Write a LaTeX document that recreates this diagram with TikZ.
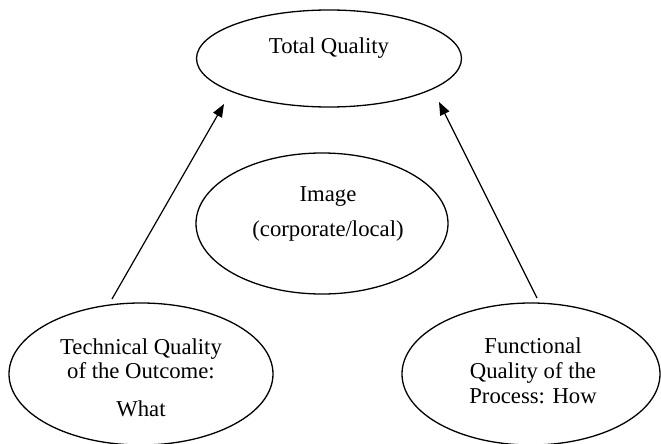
\documentclass[tikz,border=0pt]{standalone}
\usepackage{fontspec}
\setmainfont{Liberation Serif}
\usetikzlibrary{shapes.geometric,arrows.meta}
\begin{document}
\begin{tikzpicture}[x=1pt,y=-1pt,
  oval/.style={draw, ellipse, line width=1.3pt, inner sep=0pt},
  txt/.style={anchor=base, inner sep=0pt, font=\fontsize{22.7}{25}\selectfont},
  arr/.style={line width=1.2pt, -{Triangle[length=13pt,width=10pt]}}]
\useasboundingbox (0,0) rectangle (661,444);
% ellipses
\node[oval, minimum width=265pt, minimum height=97pt] (total) at (329,58.5) {};
\node[oval, minimum width=252pt, minimum height=141pt] (image) at (322,223.5) {};
\node[oval, minimum width=264pt, minimum height=142pt] (tech) at (141,374) {};
\node[oval, minimum width=258pt, minimum height=142pt] (func) at (531,374) {};
% texts
\node[txt] (t1) at (329,53.3) {Total Quality};
\node[txt] (i1) at (328,201.7) {Image};
\node[txt] (i2) at (328,236.7) {(corporate/local)};
\node[txt] (a1) at (141,354) {Technical Quality};
\node[txt] (a2) at (141,378.5) {of the Outcome:};
\node[txt] (a3) at (141,416.7) {What};
\node[txt] (b1) at (533,353.3) {Functional};
\node[txt] (b2) at (533,378.3) {Quality of the};
\node[txt] (b3) at (533,403.3) {Process: How};
% arrows
\coordinate (ls) at (112,299);
\coordinate (le) at (224,104);
\coordinate (rs) at (537,298);
\coordinate (re) at (439,102);
\draw[arr] (ls) -- (le);
\draw[arr] (rs) -- (re);
\end{tikzpicture}
\end{document}
